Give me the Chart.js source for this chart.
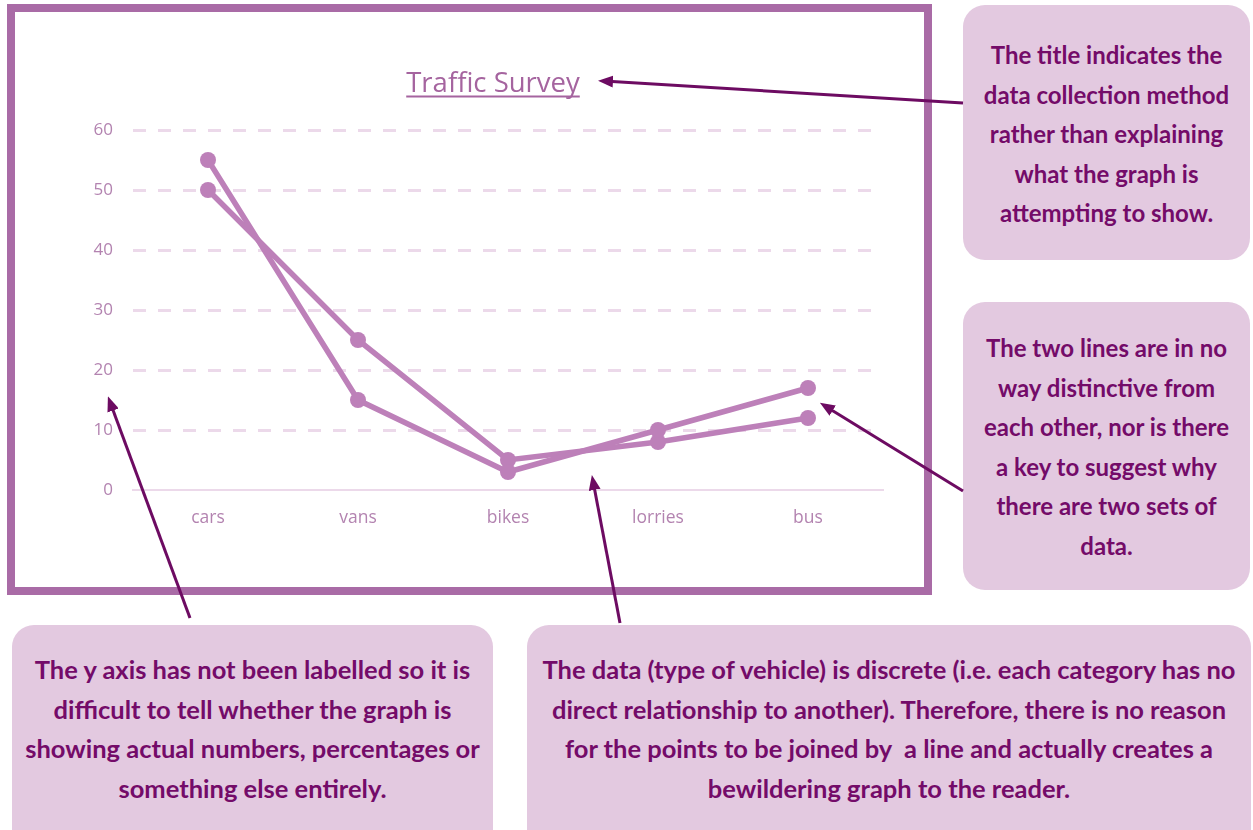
<!DOCTYPE html>
<html>
<head>
<meta charset="utf-8">
<script src="https://cdn.jsdelivr.net/npm/chart.js@4.4.1/dist/chart.umd.min.js"></script>
<style>
  body { margin:0; background:#fff; width:1253px; height:830px; position:relative; overflow:hidden; font-family: Lato, "Open Sans", sans-serif; }
  #frame { position:absolute; left:7px; top:4px; width:925px; height:591px; border:8px solid #a96ba6; box-sizing:border-box; background:#fff; }
  #wrap { position:relative; width:909px; height:575px; }
  .note { position:absolute; box-sizing:border-box; background:#e3c9e0; border-radius:22px; color:#740b69; font-weight:700; font-size:24px; line-height:39.6px; text-align:center; white-space:nowrap; }
  .note.wide { font-size:25.5px; }
  #arrows { position:absolute; left:0; top:0; }
</style>
</head>
<body>
<div id="frame"><div id="wrap"><canvas id="trafficChart"></canvas></div></div>

<div class="note" style="left:963px; top:5px; width:287px; height:255px; padding-top:30px;">The title indicates the<br>data collection method<br>rather than explaining<br>what the graph is<br>attempting to show.</div>
<div class="note" style="left:963px; top:302px; width:287px; height:288px; padding-top:26px;">The two lines are in no<br>way distinctive from<br>each other, nor is there<br>a key to suggest why<br>there are two sets of<br>data.</div>
<div class="note wide" style="left:12px; top:625px; width:481px; height:230px; padding-top:25px;">The y axis has not been labelled so it is<br>difficult to tell whether the graph is<br>showing actual numbers, percentages or<br>something else entirely.</div>
<div class="note wide" style="left:527px; top:625px; width:724px; height:230px; padding-top:25px;">The data (type of vehicle) is discrete (i.e. each category has no<br>direct relationship to another). Therefore, there is no reason<br>for the points to be joined by&nbsp; a line and actually creates a<br>bewildering graph to the reader.</div>

<svg id="arrows" width="1253" height="830">
  <defs>
    <marker id="ah" markerWidth="5" markerHeight="4" refX="3" refY="2" orient="auto" markerUnits="strokeWidth">
      <path d="M0,0 L5,2 L0,4 Z" fill="#6d0b62"/>
    </marker>
  </defs>
  <line x1="963" y1="103" x2="604" y2="81" stroke="#6d0b62" stroke-width="3" marker-end="url(#ah)"/>
  <line x1="963" y1="491" x2="825" y2="406" stroke="#6d0b62" stroke-width="3" marker-end="url(#ah)"/>
  <line x1="190" y1="618" x2="110" y2="402" stroke="#6d0b62" stroke-width="3" marker-end="url(#ah)"/>
  <line x1="620" y1="623" x2="593" y2="481" stroke="#6d0b62" stroke-width="3" marker-end="url(#ah)"/>
</svg>

<script>
const categories = ['cars', 'vans', 'bikes', 'lorries', 'bus'];
const seriesA = [55, 15, 3, 10, 17];
const seriesB = [50, 25, 5, 8, 12];
const yMin = 0, yMax = 60, yStep = 10;

const lineColor = '#bd80b9';
const gridColor = '#ecd9ea';
const tickColor = '#b383b0';
const titleSize = 27.5;

// title underline, Chart.js has no option for it
const underline = {
  id: 'underline',
  afterDraw(chart) {
    const t = chart.titleBlock;
    const o = chart.options.plugins.title;
    const ctx = chart.ctx;
    ctx.save();
    ctx.font = titleSize + 'px "Open Sans"';
    const w = ctx.measureText(o.text).width;
    const cx = (t.left + t.right) / 2;
    const y = t.top + o.padding.top + titleSize * 1.2 / 2 + 12;
    ctx.strokeStyle = o.color;
    ctx.lineWidth = 2;
    ctx.beginPath();
    ctx.moveTo(cx - w / 2, y);
    ctx.lineTo(cx + w / 2, y);
    ctx.stroke();
    ctx.restore();
  }
};

new Chart(document.getElementById('trafficChart'), {
  type: 'line',
  data: {
    labels: categories,
    datasets: [
      { data: seriesA, borderColor: lineColor, backgroundColor: lineColor, borderWidth: 5.5, pointRadius: 8, pointBorderWidth: 0, pointBackgroundColor: lineColor, tension: 0 },
      { data: seriesB, borderColor: lineColor, backgroundColor: lineColor, borderWidth: 5.5, pointRadius: 8, pointBorderWidth: 0, pointBackgroundColor: lineColor, tension: 0 }
    ]
  },
  options: {
    responsive: true,
    maintainAspectRatio: false,
    animation: false,
    layout: { padding: { top: 0, right: 41, bottom: 0, left: 88 } },
    plugins: {
      legend: { display: false },
      tooltip: { enabled: false },
      title: {
        display: true,
        text: 'Traffic Survey',
        color: '#a5649f',
        font: { family: 'Open Sans', size: titleSize, weight: 'normal' },
        padding: { top: 56, bottom: 29 }
      }
    },
    scales: {
      x: {
        offset: true,
        grid: { display: false },
        border: { display: true, color: gridColor, width: 2 },
        ticks: { color: tickColor, font: { family: 'Open Sans', size: 17.5 }, padding: 10 },
        afterFit: s => { s.height = 97; }
      },
      y: {
        min: yMin,
        max: yMax,
        grid: {
          color: c => c.tick && c.tick.value === 0 ? 'rgba(0,0,0,0)' : gridColor,
          lineWidth: 3,
          drawTicks: false
        },
        border: { display: false, dash: [13, 12] },
        // mirrored + far alignment so the labels are not clipped to the narrow axis box
        ticks: { stepSize: yStep, color: tickColor, font: { family: 'Open Sans', size: 17 }, mirror: true, crossAlign: 'far', padding: -39.5 },
        afterFit: s => { s.width = 30; }
      }
    }
  },
  plugins: [underline]
});
</script>
</body>
</html>
